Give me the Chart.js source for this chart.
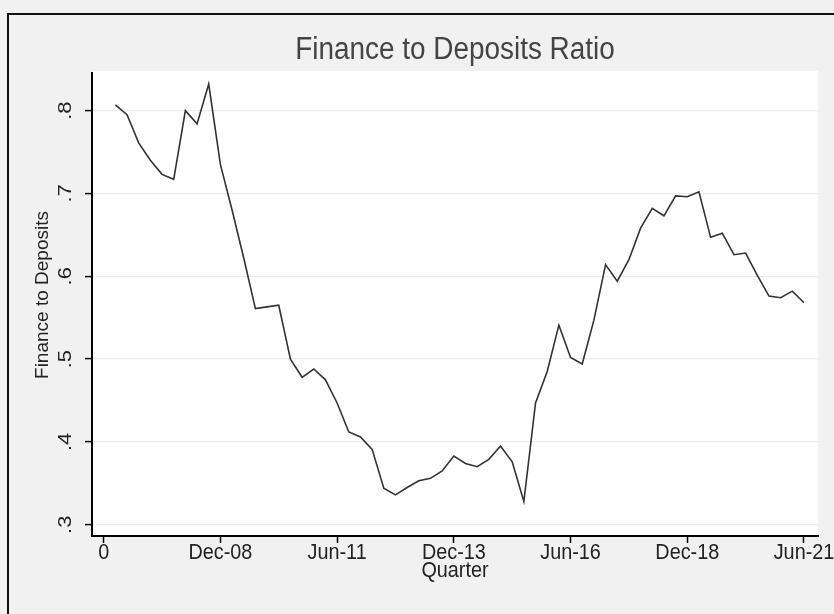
<!DOCTYPE html>
<html>
<head>
<meta charset="utf-8">
<script src="https://cdn.jsdelivr.net/npm/chart.js@4"></script>
<style>
  body { margin: 0; background: #f1f1f1; }
  canvas { display: block; }
</style>
</head>
<body>
<canvas id="chartRatio" width="834" height="614"></canvas>
<script>
// quarterly finance-to-deposits ratio, quarter 1 .. 60
var ratio = [
    0.807, 0.795, 0.761, 0.740, 0.723, 0.717, 0.800, 0.784, 0.832, 0.735,
    0.680, 0.622, 0.561, 0.563, 0.565, 0.500, 0.478, 0.488, 0.475, 0.447,
    0.412, 0.406, 0.391, 0.344, 0.336, 0.345, 0.353, 0.356, 0.365, 0.383,
    0.374, 0.370, 0.379, 0.395, 0.376, 0.328, 0.447, 0.485, 0.541, 0.502,
    0.494, 0.547, 0.614, 0.594, 0.620, 0.658, 0.682, 0.673, 0.697, 0.696,
    0.702, 0.647, 0.652, 0.626, 0.628, 0.601, 0.576, 0.574, 0.582, 0.568
];
var xTicks = [0, 10, 20, 30, 40, 50, 60];
var xTickLabels = ['0', 'Dec-08', 'Jun-11', 'Dec-13', 'Jun-16', 'Dec-18', 'Jun-21'];
var yTicks = [0.3, 0.4, 0.5, 0.6, 0.7, 0.8];
var yTickLabels = ['.3', '.4', '.5', '.6', '.7', '.8'];

var points = [];
for (var i = 0; i < ratio.length; i++) {
    points.push({ x: i + 1, y: ratio[i] });
}

var FONT = '"Liberation Sans", Arial, sans-serif';

// text is drawn a little condensed, like the Stata export
function putText(ctx, text, x, y, size, color, sx, rotate) {
    ctx.save();
    ctx.translate(x, y);
    ctx.scale(sx, 1);
    if (rotate) ctx.rotate(-Math.PI / 2);
    ctx.font = size + 'px ' + FONT;
    ctx.fillStyle = color;
    ctx.textAlign = 'center';
    ctx.textBaseline = 'middle';
    ctx.fillText(text, 0, 0);
    ctx.restore();
}

var backdrop = {
    id: 'backdrop',
    beforeDraw: function(chart) {
        var ctx = chart.ctx, a = chart.chartArea;
        ctx.save();
        ctx.fillStyle = '#f1f1f1';
        ctx.fillRect(0, 0, chart.width, chart.height);
        ctx.fillStyle = '#ffffff';
        ctx.fillRect(a.left, a.top - 2, a.right - a.left, a.bottom - a.top + 2);
        ctx.strokeStyle = '#111';
        ctx.lineWidth = 2;
        ctx.strokeRect(8, 14, 900, 700);
        ctx.restore();
    }
};

var labels = {
    id: 'labels',
    afterDraw: function(chart) {
        var ctx = chart.ctx;
        var xs = chart.scales.x, ys = chart.scales.y;
        putText(ctx, 'Finance to Deposits Ratio', 455, 50, 31, '#444', 0.9, false);
        for (var i = 0; i < xTicks.length; i++) {
            putText(ctx, xTickLabels[i], xs.getPixelForValue(xTicks[i]), 553, 22, '#222', 0.9, false);
        }
        putText(ctx, 'Quarter', (xs.left + xs.right) / 2, 571, 22, '#222', 0.9, false);
        for (var j = 0; j < yTicks.length; j++) {
            putText(ctx, yTickLabels[j], 66, ys.getPixelForValue(yTicks[j]), 22, '#222', 0.8, true);
        }
        putText(ctx, 'Finance to Deposits', 43, 295, 19, '#222', 1, true);
    }
};

var ctx = document.getElementById('chartRatio').getContext('2d');
var myChart = new Chart(ctx, {
    type: 'line',
    data: {
        datasets: [{
            data: points,
            borderColor: '#333333',
            borderWidth: 1.6,
            pointRadius: 0,
            tension: 0,
            fill: false
        }]
    },
    options: {
        responsive: false,
        animation: false,
        layout: { padding: { top: 73, right: 16, left: 0, bottom: 0 } },
        plugins: {
            legend: { display: false },
            title: { display: false },
            tooltip: { enabled: false }
        },
        scales: {
            x: {
                type: 'linear',
                min: -1.0,
                max: 61.2,
                afterBuildTicks: function(scale) {
                    scale.ticks = xTicks.map(function(v) { return { value: v }; });
                },
                afterFit: function(scale) { scale.height = 78; },
                ticks: { display: false },
                grid: {
                    drawOnChartArea: false,
                    drawTicks: true,
                    tickLength: 7,
                    tickColor: '#000',
                    tickWidth: 1.5
                },
                border: { display: true, color: '#000', width: 2 }
            },
            y: {
                min: 0.2864,
                max: 0.8454,
                afterBuildTicks: function(scale) {
                    scale.ticks = yTicks.map(function(v) { return { value: v }; });
                },
                afterFit: function(scale) { scale.width = 92; },
                ticks: { display: false },
                grid: {
                    color: '#ececec',
                    lineWidth: 1.2,
                    drawTicks: true,
                    tickLength: 7,
                    tickColor: '#000',
                    tickWidth: 1.5
                },
                border: { display: true, color: '#000', width: 2 }
            }
        }
    },
    plugins: [backdrop, labels]
});
</script>
</body>
</html>
